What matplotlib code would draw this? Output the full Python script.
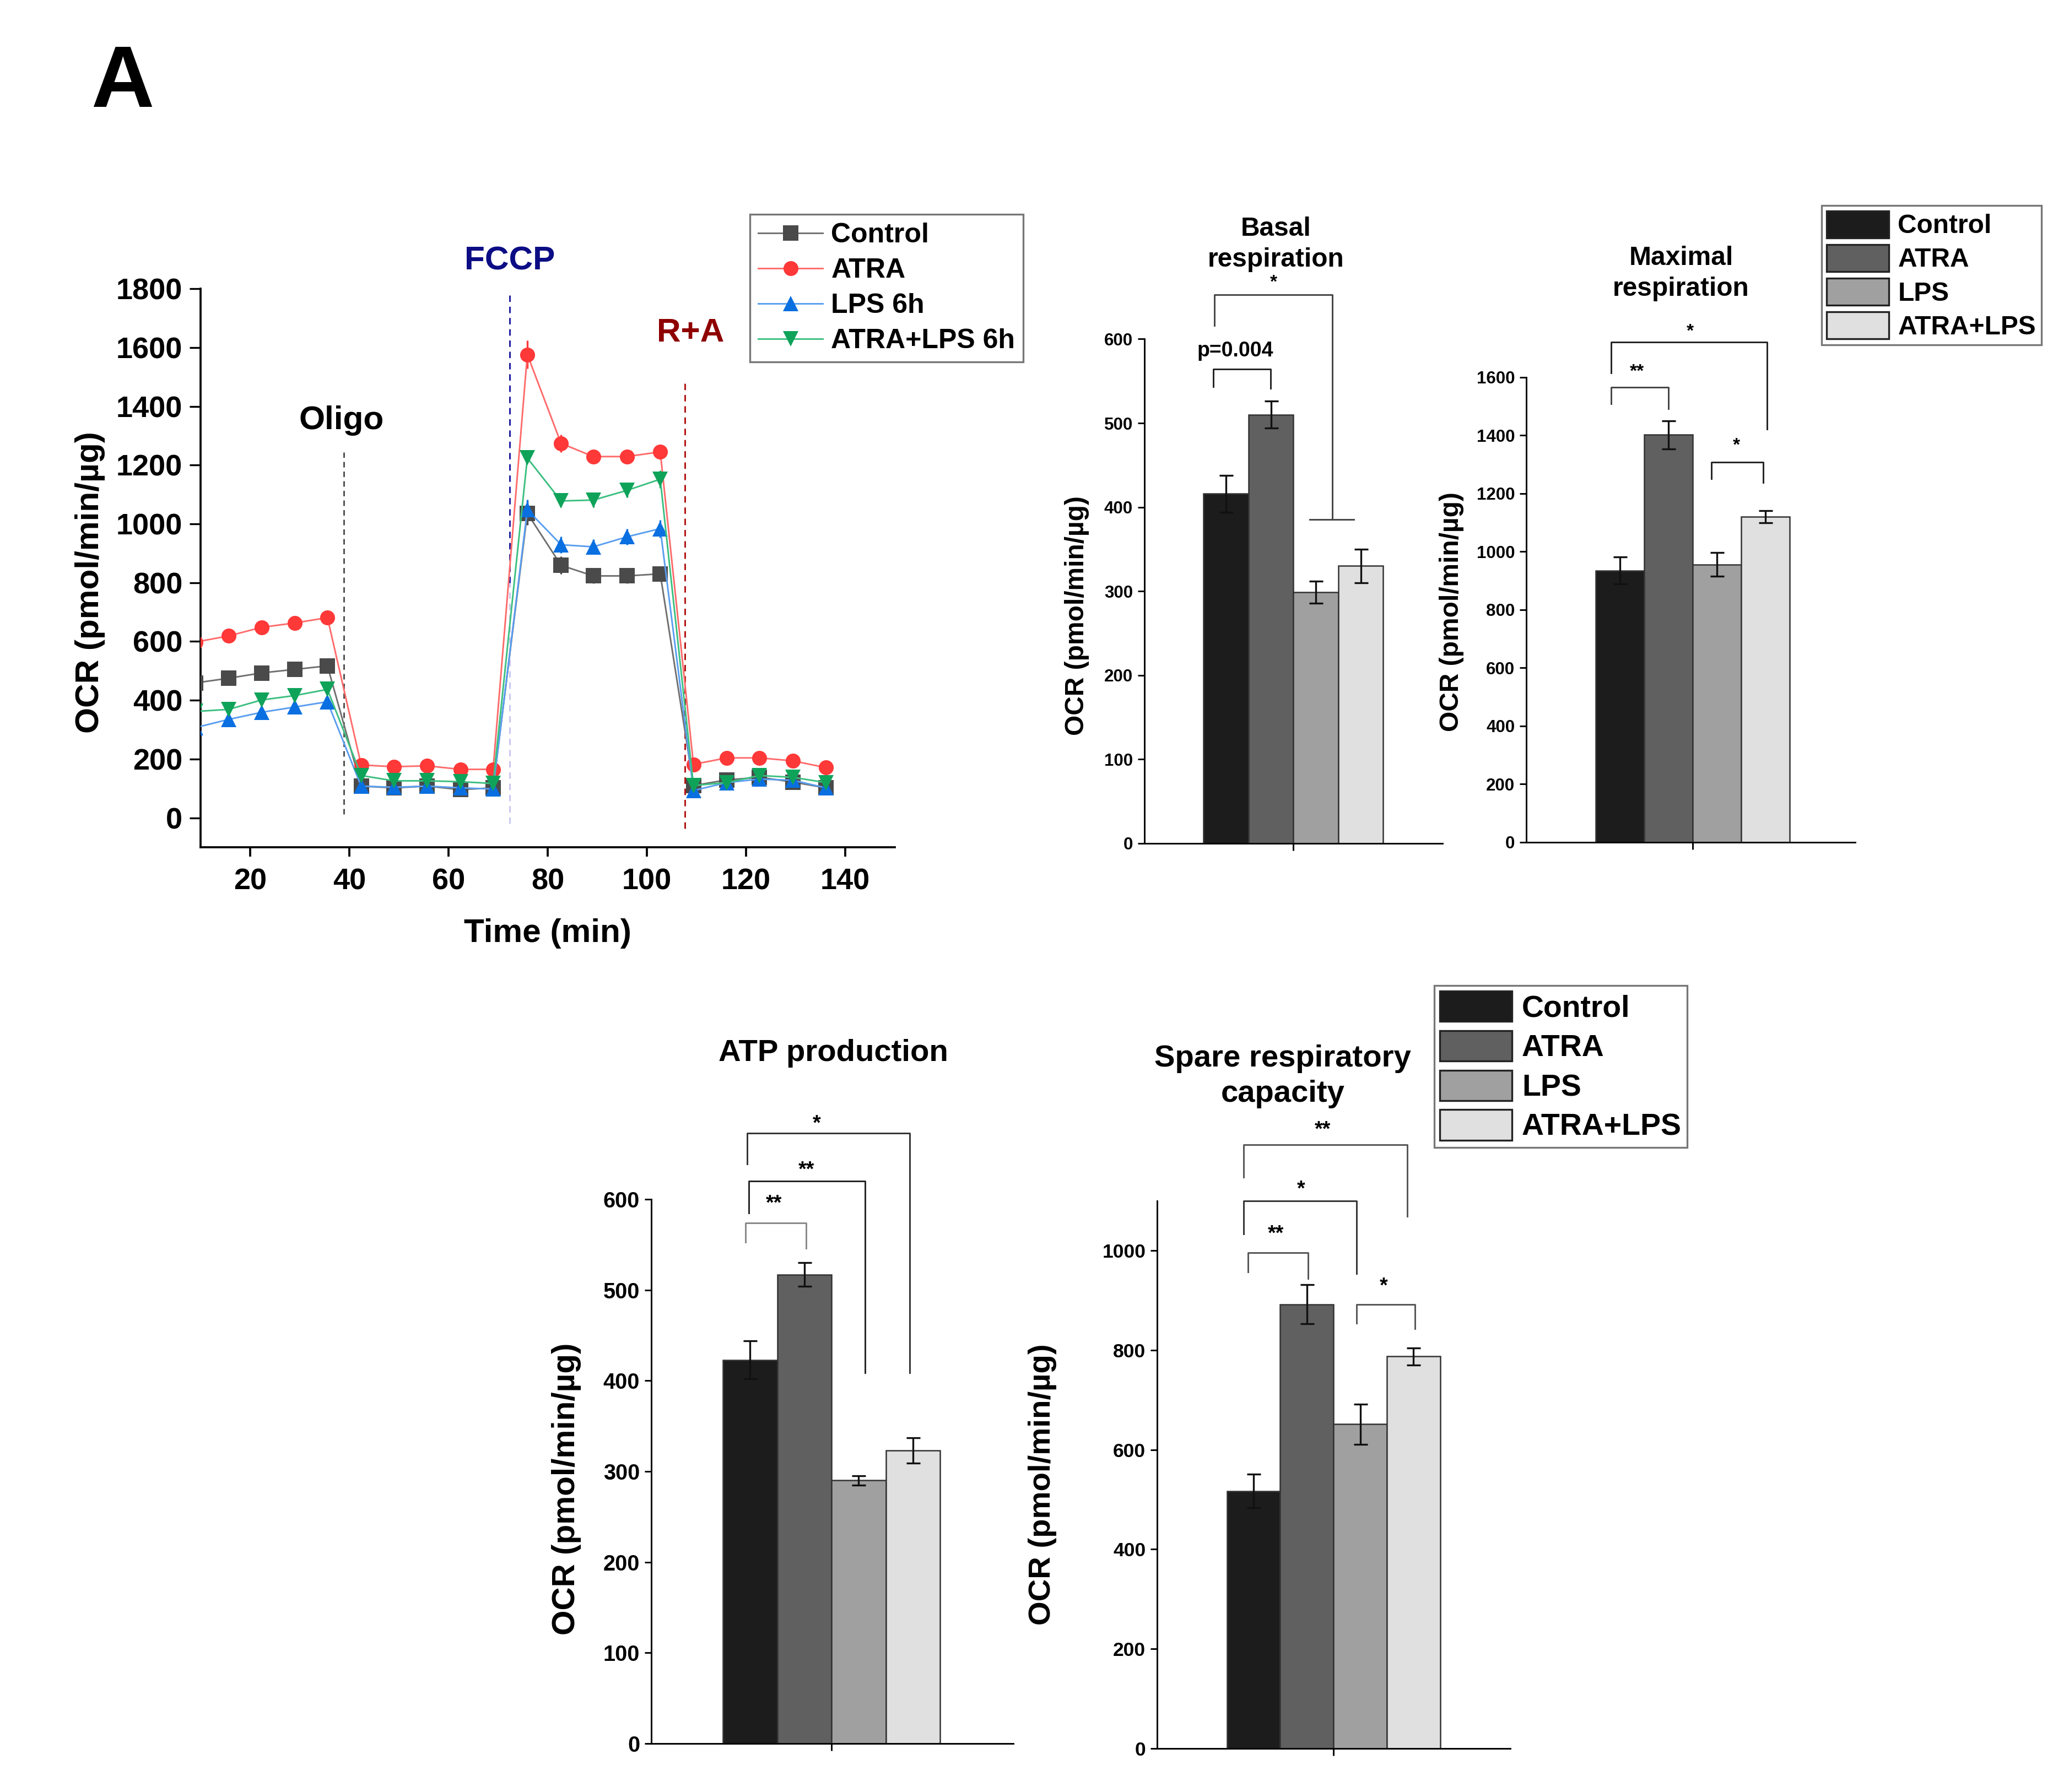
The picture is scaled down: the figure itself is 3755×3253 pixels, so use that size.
import numpy as np
import matplotlib
matplotlib.use('Agg')
import matplotlib.pyplot as plt
from matplotlib import font_manager
from matplotlib.patches import Patch
from matplotlib.lines import Line2D

installed = {f.name for f in font_manager.fontManager.ttflist}
plt.rcParams['font.family'] = ['Liberation Sans', 'DejaVu Sans']
plt.rcParams['font.weight'] = 'bold'
plt.rcParams['axes.labelweight'] = 'bold'
NARROW = ['Liberation Sans Narrow', 'Liberation Sans'] if 'Liberation Sans Narrow' in installed else ['Liberation Sans']

# --- time course data (Seahorse trace) ---
time_min = [9.0, 15.7, 22.3, 29.0, 35.6, 42.4, 49.0, 55.7, 62.4, 69.0,
            75.9, 82.7, 89.2, 96.0, 102.7, 109.4, 116.1, 122.7, 129.4, 136.1]
ocr_control = [459, 475, 493, 505, 517, 108, 102, 108, 96, 102,
               1036, 859, 823, 823, 830, 110, 129, 138, 122, 102]
ocr_atra = [598, 619, 648, 663, 681, 180, 174, 177, 165, 165,
            1576, 1274, 1229, 1229, 1245, 182, 204, 204, 194, 171]
ocr_lps = [307, 335, 359, 377, 395, 108, 104, 108, 102, 98,
           1048, 929, 922, 956, 984, 93, 120, 132, 128, 102]
ocr_atra_lps = [362, 369, 401, 416, 437, 144, 126, 126, 123, 117,
                1224, 1078, 1081, 1114, 1152, 110, 120, 144, 138, 120]
err_control = [15, 20, 18, 18, 18, 8, 8, 8, 8, 8, 40, 30, 25, 25, 25, 8, 8, 8, 8, 8]
err_atra = [10, 12, 12, 12, 12, 10, 8, 8, 8, 8, 48, 30, 20, 18, 25, 8, 8, 8, 8, 8]
err_lps = [10, 12, 12, 12, 12, 8, 8, 8, 8, 8, 35, 28, 25, 28, 30, 8, 8, 8, 8, 8]
err_atra_lps = [12, 15, 15, 15, 18, 10, 8, 8, 8, 8, 15, 20, 25, 25, 30, 8, 8, 8, 8, 8]
trace_labels = ['Control', 'ATRA', 'LPS 6h', 'ATRA+LPS 6h']

# --- summary bar data ---
groups = ['Control', 'ATRA', 'LPS', 'ATRA+LPS']
basal = [416, 510, 299, 330]
basal_err = [22, 16, 13, 20]
maximal = [935, 1402, 956, 1120]
maximal_err = [47, 48, 41, 21]
atp = [423, 517, 290, 323]
atp_err = [21, 13, 5, 14]
spare = [517, 892, 651, 787]
spare_err = [34, 39, 40, 17]

bar_colors = ['#1c1c1c', '#606060', '#a0a0a0', '#e0e0e0']

fig = plt.figure(figsize=(3755 / 300, 3253 / 300), dpi=300)

# ---------------- line chart ----------------
ax = fig.add_axes([0.0969, 0.5272, 0.3356, 0.3117])
styles = [
    dict(line='#707070', mk='#4a4a4a', marker='s'),
    dict(line='#ff6b6b', mk='#ff3838', marker='o'),
    dict(line='#5a9ef0', mk='#0a6fe0', marker='^'),
    dict(line='#3cbf80', mk='#0fa35a', marker='v'),
]
series = [(ocr_control, err_control), (ocr_atra, err_atra),
          (ocr_lps, err_lps), (ocr_atra_lps, err_atra_lps)]
handles = []
for (vals, errs), st, lab in zip(series, styles, trace_labels):
    ax.errorbar(time_min, vals, yerr=errs, color=st['line'], lw=0.7,
                ecolor=st['mk'], elinewidth=0.8, capsize=4, capthick=0.8,
                marker=st['marker'], markersize=6.5, markerfacecolor=st['mk'],
                markeredgewidth=0, zorder=3)
    handles.append(Line2D([0], [0], color=st['line'], lw=0.7, marker=st['marker'],
                          markersize=6.5, markerfacecolor=st['mk'], markeredgewidth=0))

ax.set_xlim(10, 150)
ax.set_ylim(-100, 1800)
ax.set_xticks(np.arange(20, 141, 20))
ax.set_yticks(np.arange(0, 1801, 200))
for s in ['top', 'right']:
    ax.spines[s].set_visible(False)
for s in ['left', 'bottom']:
    ax.spines[s].set_linewidth(0.9)
ax.tick_params(axis='y', length=4.8, width=0.8, labelsize=13, pad=3)
ax.tick_params(axis='x', length=4, width=0.9, labelsize=13, pad=5)
ax.set_xlabel('Time (min)', fontsize=14.5, labelpad=10)
ax.set_ylabel('OCR (pmol/min/\u00b5g)', fontsize=14.5)
ax.yaxis.set_label_coords(-0.137, 0.474)

# injection markers
ax.plot([38.9, 38.9], [12, 1243], ls=(0, (4, 3)), color='#333333', lw=0.6, zorder=1)
ax.plot([72.3, 72.3], [-20, 800], ls=(0, (4, 3)), color='#c9c6f0', lw=0.7, zorder=1)
ax.plot([72.3, 72.3], [800, 1777], ls=(0, (4, 3)), color='#1a1aa0', lw=0.7, zorder=1, clip_on=False)
ax.plot([107.7, 107.7], [-36, 1486], ls=(0, (4, 3)), color='#b01010', lw=0.7, zorder=1)
ax.text(38.4, 1351, 'Oligo', fontsize=14.5, ha='center', va='center')
ax.text(72.4, 1893, 'FCCP', fontsize=14.5, ha='center', va='center', color='#0c0c85', clip_on=False)
ax.text(108.8, 1649, 'R+A', fontsize=14.5, ha='center', va='center', color='#8e0000')

fig.legend(handles, trace_labels, loc='upper left', bbox_to_anchor=(0.3624, 0.8804),
           fontsize=12, frameon=True, fancybox=False, edgecolor='#555555',
           borderaxespad=0, borderpad=0.3, handlelength=2.35, handletextpad=0.3,
           labelspacing=0.36).get_frame().set_linewidth(0.8)


# ---------------- bar charts ----------------
def bar_panel(rect, vals, errs, ylim, yticks, tick_size, xlim):
    a = fig.add_axes(rect)
    x = np.arange(len(vals))
    a.bar(x, vals, width=1.0, color=bar_colors, edgecolor='#333333', linewidth=0.6, zorder=2)
    a.errorbar(x, vals, yerr=errs, fmt='none', ecolor='#111111', elinewidth=0.8,
               capsize=3, capthick=0.8, zorder=3)
    a.set_xlim(*xlim)
    a.set_ylim(*ylim)
    a.set_yticks(yticks)
    a.set_xticks([1.5])
    a.set_xticklabels([''])
    for s in ['top', 'right']:
        a.spines[s].set_visible(False)
    for s in ['left', 'bottom']:
        a.spines[s].set_linewidth(0.7)
    a.tick_params(axis='y', length=3, width=0.7, labelsize=tick_size, pad=2)
    a.tick_params(axis='x', length=3, width=0.7)
    return a


def bracket(a, x1, x2, yl, yt, yr, label, tx, ty, size=8.5, color='#444444'):
    a.plot([x1, x1, x2, x2], [yl, yt, yt, yr], color=color, lw=0.7, clip_on=False, zorder=4)
    a.text(tx, ty, label, fontsize=size, ha='center', va='center', clip_on=False)


# Basal respiration
ab = bar_panel([0.5531, 0.5294, 0.1441, 0.2814], basal, basal_err, (0, 600),
               np.arange(0, 601, 100), 7.5, (-1.82, 4.82))
ab.set_ylabel('OCR (pmol/min/\u00b5g)', fontsize=11.5)
ab.yaxis.set_label_coords(-0.185, 0.452)
bracket(ab, -0.29, 0.99, 543, 564, 541, 'p=0.004', 0.21, 586, size=9, color='#222222')
bracket(ab, -0.26, 2.36, 616, 653, 385, '*', 1.06, 667, size=8)
ab.plot([1.86, 2.84], [385, 385], color='#444444', lw=0.7, zorder=4)

# Maximal respiration
am = bar_panel([0.7377, 0.5300, 0.1590, 0.2595], maximal, maximal_err, (0, 1600),
               np.arange(0, 1601, 200), 7.5, (-1.93, 4.85))
am.set_ylabel('OCR (pmol/min/\u00b5g)', fontsize=11.5)
am.yaxis.set_label_coords(-0.189, 0.495)
bracket(am, -0.18, 1.0, 1509, 1566, 1492, '**', 0.35, 1619, size=8)
bracket(am, -0.18, 3.03, 1615, 1721, 1422, '*', 1.45, 1756, size=8, color='#222222')
bracket(am, 1.89, 2.95, 1251, 1308, 1237, '*', 2.4, 1364, size=8, color='#222222')

# ATP production
aa = bar_panel([0.3148, 0.0271, 0.1750, 0.3036], atp, atp_err, (0, 600),
               np.arange(0, 601, 100), 9.5, (-1.82, 4.85))
aa.set_ylabel('OCR (pmol/min/\u00b5g)', fontsize=14)
aa.yaxis.set_label_coords(-0.194, 0.468)
bracket(aa, -0.08, 1.03, 553, 574, 546, '**', 0.44, 595, size=9, color='#888888')
bracket(aa, -0.02, 2.12, 585, 620, 409, '**', 1.04, 632, size=9, color='#222222')
bracket(aa, -0.05, 2.94, 639, 673, 409, '*', 1.23, 683, size=9, color='#333333')

# Spare respiratory capacity
asp = bar_panel([0.5593, 0.0243, 0.1707, 0.3057], spare, spare_err, (0, 1100),
                np.arange(0, 1001, 200), 8.5, (-1.81, 4.82))
asp.set_ylabel('OCR (pmol/min/\u00b5g)', fontsize=13.5)
asp.yaxis.set_label_coords(-0.284, 0.482)
bracket(asp, -0.1, 1.02, 957, 995, 943, '**', 0.42, 1033, size=9, color='#555555')
bracket(asp, -0.19, 1.93, 1033, 1099, 953, '*', 0.89, 1122, size=9, color='#333333')
bracket(asp, -0.19, 2.88, 1147, 1212, 1069, '**', 1.3, 1242, size=9, color='#555555')
bracket(asp, 1.93, 3.03, 854, 892, 843, '*', 2.44, 928, size=9, color='#555555')

# titles
fig.text(0.6168, 0.8637, 'Basal\nrespiration', fontsize=11.5, ha='center', va='center',
         linespacing=1.3, family=NARROW)
fig.text(0.8125, 0.8474, 'Maximal\nrespiration', fontsize=11.5, ha='center', va='center',
         linespacing=1.3, family=NARROW)
fig.text(0.4029, 0.4122, 'ATP production', fontsize=13.5, ha='center', va='center')
fig.text(0.6200, 0.3993, 'Spare respiratory\ncapacity', fontsize=13.5, ha='center',
         va='center', linespacing=1.3)
fig.text(0.0591, 0.9527, 'A', fontsize=38, ha='center', va='center')

# bar legends
bar_handles = [Patch(facecolor=c, edgecolor='#222222', linewidth=0.8) for c in bar_colors]
lg1 = fig.legend(bar_handles, groups, loc='upper left', bbox_to_anchor=(0.8804, 0.8853),
                 fontsize=11.5, frameon=True, fancybox=False, edgecolor='#555555',
                 borderaxespad=0, borderpad=0.2, handlelength=2.35, handleheight=1.19,
                 handletextpad=0.34, labelspacing=0.22)
lg1.get_frame().set_linewidth(0.8)
lg2 = fig.legend(bar_handles, groups, loc='upper left', bbox_to_anchor=(0.6932, 0.4500),
                 fontsize=13.3, frameon=True, fancybox=False, edgecolor='#555555',
                 borderaxespad=0, borderpad=0.18, handlelength=2.36, handleheight=1.16,
                 handletextpad=0.33, labelspacing=0.24)
lg2.get_frame().set_linewidth(0.8)

fig.savefig('out.png', dpi=300)
